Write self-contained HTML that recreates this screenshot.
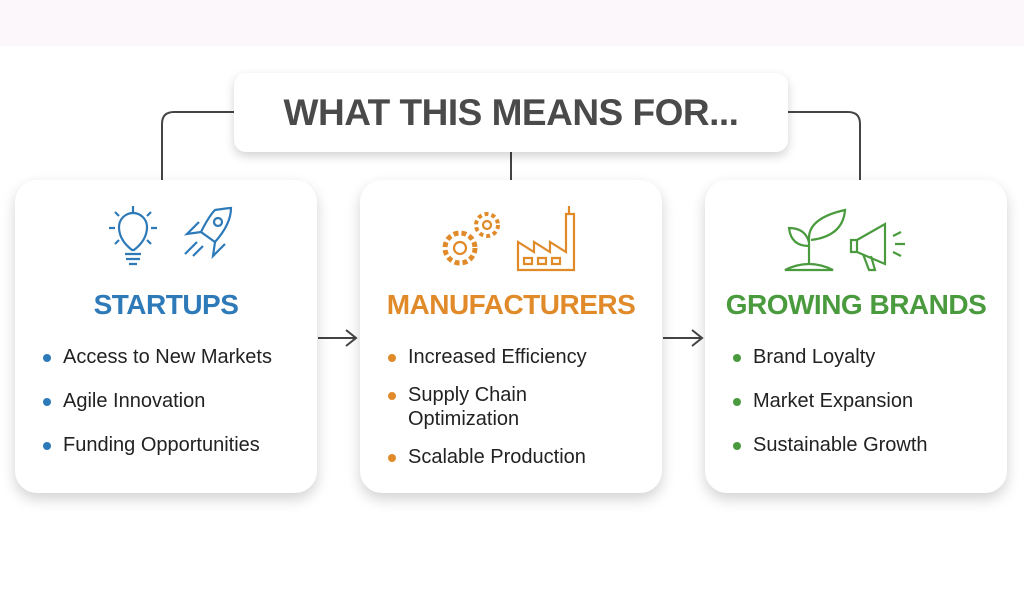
<!DOCTYPE html>
<html><head><meta charset="utf-8"><style>
body{margin:0;width:1024px;height:610px;background:#fff;position:relative;overflow:hidden;font-family:"Liberation Sans",sans-serif}
.band{position:absolute;left:0;top:0;width:1024px;height:46px;background:#fcf7fa}
.hdr{position:absolute;left:234px;top:73px;width:554px;height:79px;background:#fff;border-radius:12px;box-shadow:0 4px 10px rgba(0,0,0,.18);text-align:center;line-height:79px;font-size:37px;font-weight:bold;color:#4a4a4a;letter-spacing:-0.5px}
.card{position:absolute;top:180px;width:302px;height:313px;background:#fff;border-radius:22px;box-shadow:0 6px 14px rgba(0,0,0,.18)}
.t{position:absolute;left:0;width:100%;top:109px;text-align:center;font-size:28px;font-weight:bold;letter-spacing:-0.5px}
ul{position:absolute;left:28px;top:165px;margin:0;padding:0;list-style:none}
li{position:relative;padding-left:20px;font-size:20px;color:#222;line-height:24px;margin-bottom:20px}
.m li{margin-bottom:14px}
li:before{content:"";position:absolute;left:0;top:9px;width:8px;height:8px;border-radius:50%;background:var(--c)}
svg.ic{position:absolute;top:22px;left:0}
</style></head><body>
<div class="band"></div>
<svg width="1024" height="610" style="position:absolute;left:0;top:0" fill="none" stroke="#444" stroke-width="2">
<path d="M234 112H174Q162 112 162 124V180"/>
<path d="M788 112H848Q860 112 860 124V180"/>
<path d="M511 152V180"/>
<path d="M318 338H356M346 330L356 338L346 346"/>
<path d="M663 338H702M692 330L702 338L692 346"/>
</svg>
<div class="hdr">WHAT THIS MEANS FOR...</div>

<div class="card" style="left:15px;--c:#2e7ab8">
<svg class="ic" width="302" height="80" fill="none" stroke="#2e7ab8" stroke-width="2.2">
<path d="M117 48Q104 38 104 25A14 14 0 0 1 132 25Q132 38 119 48Z"/><path d="M110 52H126M111 57H125M114 62H122"/>
<path d="M118 4V10M100 10L104 14M136 10L132 14M94 26H100M136 26H142M100 42L104 38M136 42L132 38"/>
<path d="M200 8Q214 6 216 6Q216 22 200 40L186 30Q194 14 200 8Z"/><circle cx="203" cy="20" r="4"/>
<path d="M186 30L172 32L184 20M200 40L198 54L210 42M182 40L170 52M188 44L178 54"/>
</svg>
<div class="t" style="color:#2e7ab8">STARTUPS</div>
<ul><li>Access to New Markets</li><li>Agile Innovation</li><li>Funding Opportunities</li></ul>
</div>

<div class="card m" style="left:360px;--c:#e08a2a">
<svg class="ic" width="302" height="80" fill="none" stroke="#e08a2a" stroke-width="2.2">
<circle cx="100" cy="46" r="15" stroke-dasharray="5 3" stroke-width="5"/><circle cx="100" cy="46" r="6"/>
<circle cx="127" cy="23" r="11" stroke-dasharray="4 3" stroke-width="4"/><circle cx="127" cy="23" r="4"/>
<path d="M158 68V40L174 50V40L190 50V40L206 50V12H214V68Z"/><path d="M164 56h8v6h-8zM178 56h8v6h-8zM192 56h8v6h-8z"/><path d="M209 4v8"/>
</svg>
<div class="t" style="color:#e08a2a">MANUFACTURERS</div>
<ul><li>Increased Efficiency</li><li>Supply Chain<br>Optimization</li><li>Scalable Production</li></ul>
</div>

<div class="card" style="left:705px;--c:#4a9a3e">
<svg class="ic" width="302" height="80" fill="none" stroke="#4a9a3e" stroke-width="2.2">
<path d="M80 68Q104 56 128 68Z"/><path d="M104 62V36Q104 16 140 8Q138 34 106 38"/><path d="M104 44Q86 44 84 26Q100 26 104 40"/>
<path d="M152 38L180 22V62L152 50Z"/><path d="M152 38H146V50H152M158 52L164 68H170L166 54"/><path d="M188 34L196 30M190 42H200M188 50L196 54"/>
</svg>
<div class="t" style="color:#4a9a3e">GROWING BRANDS</div>
<ul><li>Brand Loyalty</li><li>Market Expansion</li><li>Sustainable Growth</li></ul>
</div>
</body></html>
